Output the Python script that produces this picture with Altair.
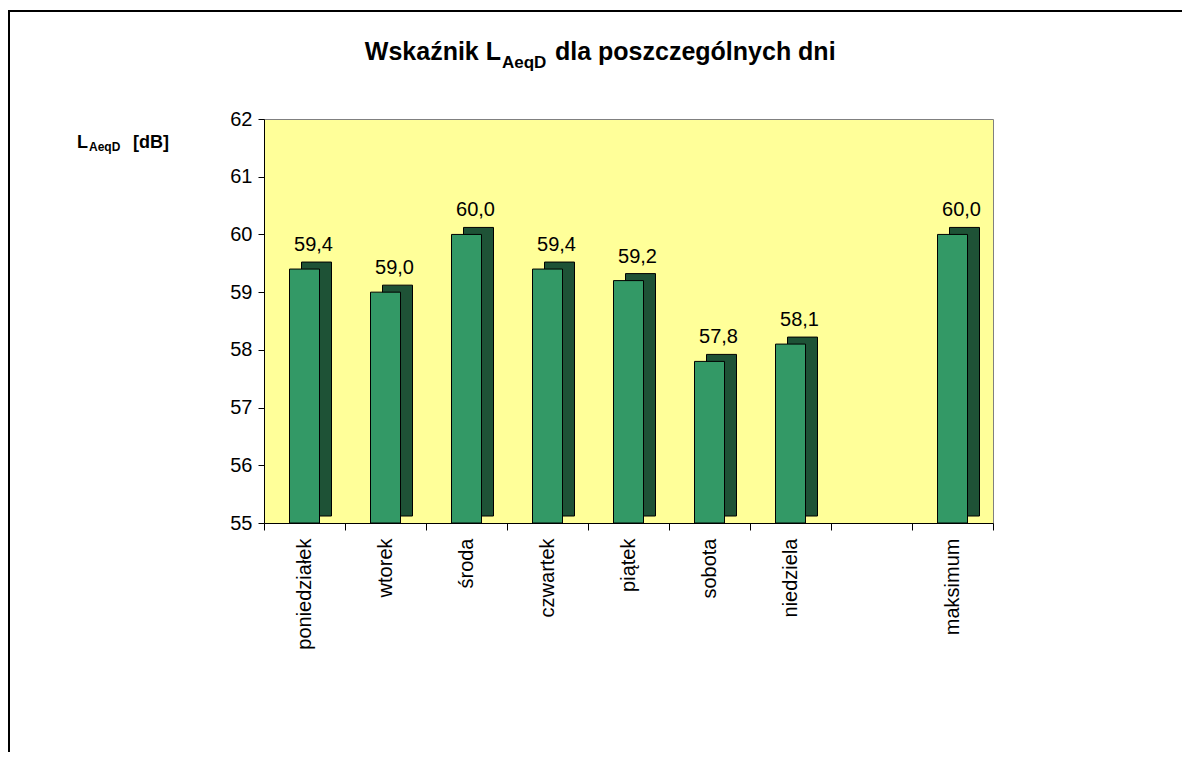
import altair as alt
import pandas as pd

categories = ["poniedziałek", "wtorek", "środa", "czwartek", "piątek",
              "sobota", "niedziela", " ", "maksimum"]
values = [59.4, 59.0, 60.0, 59.4, 59.2, 57.8, 58.1, None, 60.0]
y_ticks = [55, 56, 57, 58, 59, 60, 61, 62]

FONT = "Liberation Sans"
FRONT = "#339966"
SIDE = "#1E5236"

df = pd.DataFrame({"day": categories, "value": values})

x_enc = alt.X(
    "day:N",
    sort=categories,
    scale=alt.Scale(domain=categories, paddingInner=0, paddingOuter=0),
    axis=alt.Axis(
        title=None, labelAngle=-90, labelAlign="right", labelBaseline="middle",
        labelFont=FONT, labelFontSize=20, labelColor="black",
        labelPadding=8, tickBand="extent", tickSize=7, tickColor="black",
        domainColor="black", grid=False,
    ),
)
y_enc = alt.Y(
    "value:Q",
    scale=alt.Scale(domain=[55, 62], nice=False, zero=False),
    axis=alt.Axis(
        title=None, values=y_ticks, grid=False, labelFont=FONT,
        labelFontSize=20, labelColor="black", tickColor="black",
        domainColor="black", tickSize=6, labelPadding=6,
    ),
)

base = alt.Chart(df).transform_filter("isValid(datum.value)")

side = base.mark_bar(
    color=SIDE, stroke="black", strokeWidth=1, size=30,
    xOffset=12, x2Offset=12, yOffset=-7, y2Offset=-7,
).encode(x=x_enc, y=y_enc, y2=alt.datum(55))

front = base.mark_bar(
    color=FRONT, stroke="black", strokeWidth=1, size=30,
).encode(x=x_enc, y=y_enc, y2=alt.datum(55))

labels = base.transform_calculate(
    lab="replace(format(datum.value, '.1f'), '.', ',')"
).mark_text(
    font=FONT, fontSize=20, color="black", dx=9, dy=-18, baseline="alphabetic"
).encode(x=x_enc, y=y_enc, text="lab:N")

one = alt.Data(values=[{"a": 1}])


def txt(s, x, y, size, align="left", bold=True):
    return alt.Chart(one).mark_text(
        text=s, font=FONT, fontSize=size, fontWeight="bold" if bold else "normal",
        align=align, baseline="alphabetic", color="black",
    ).encode(x=alt.value(x), y=alt.value(y))


title1 = txt("Wskaźnik L", 237, -59, 25, align="right")
title2 = txt("AeqD", 238, -51, 17)
title3 = txt("dla poszczególnych dni", 291, -59, 25)

yt1 = txt("L", -187, 29, 18)
yt2 = txt("AeqD", -175, 32, 12)
yt3 = txt("[dB]", -131, 29, 18)

frame_left = alt.Chart(one).mark_rule(color="black", strokeWidth=2).encode(
    x=alt.value(-255), y=alt.value(-109), y2=alt.value(700)
)
frame_top = alt.Chart(one).mark_rule(color="black", strokeWidth=2).encode(
    x=alt.value(-256), x2=alt.value(1000), y=alt.value(-108)
)

chart = alt.layer(
    side, front, labels, title1, title2, title3, yt1, yt2, yt3,
    frame_left, frame_top,
).properties(
    width=729, height=404,
    padding={"left": 256, "top": 111, "right": 189, "bottom": 229},
    autosize=alt.AutoSizeParams(type="none"),
    background="white",
).configure_view(fill="#FFFF99", stroke="#808080", strokeWidth=1)

chart.save("out.html", embed_options={"renderer": "svg", "actions": False})
